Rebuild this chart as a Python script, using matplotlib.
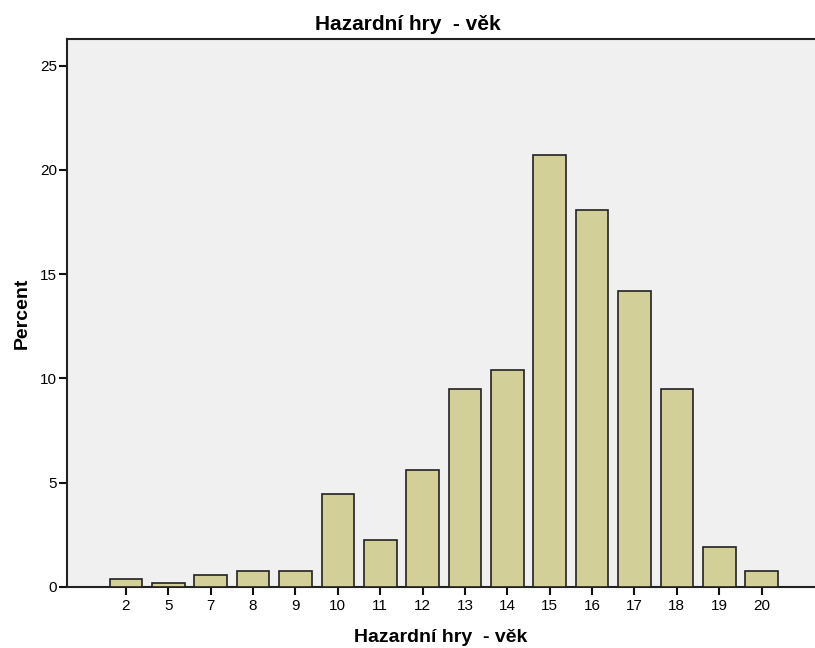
import matplotlib
matplotlib.use("Agg")
import matplotlib.pyplot as plt
import numpy as np

categories = ["2", "5", "7", "8", "9", "10", "11", "12", "13", "14", "15", "16", "17", "18", "19", "20"]
percent = [0.38, 0.19, 0.58, 0.76, 0.76, 4.48, 2.25, 5.6, 9.5, 10.43, 20.71, 18.08, 14.19, 9.5, 1.9, 0.76]

plt.rcParams['font.family'] = ['Liberation Sans', 'DejaVu Sans']

fig = plt.figure(figsize=(8.15, 6.48), dpi=100)
ax = fig.add_axes([67/815, 1 - 587/648, 1 - 67/815, (587 - 39)/648])
ax.set_facecolor('#F0F0F0')

x = np.arange(len(categories))
ax.bar(x, percent, width=0.77, color='#D3CF98', edgecolor='#222222', linewidth=1.2, zorder=3)

ax.set_xlim(-1.392, 16.26)
ax.set_ylim(0, 26.28)
ax.set_yticks([0, 5, 10, 15, 20, 25])
ax.set_xticks(x)
ax.set_xticklabels(categories)
ax.tick_params(axis='both', labelsize=11, length=6, width=1.5, color='#111111')
ax.tick_params(axis='x', pad=3)
ax.tick_params(axis='y', pad=1)

ax.spines['right'].set_visible(False)
for s in ['left', 'top', 'bottom']:
    ax.spines[s].set_linewidth(1.5)
    ax.spines[s].set_color('#222222')

fig.text(0.5, 1 - 24/648, 'Hazardní hry  - věk', fontsize=15, fontweight='bold', ha='center', va='center')
ax.set_xlabel('Hazardní hry  - věk', fontsize=14, fontweight='bold', labelpad=11)
ax.set_ylabel('Percent', fontsize=14, fontweight='bold', labelpad=7)

fig.savefig('out.png', dpi=100)
